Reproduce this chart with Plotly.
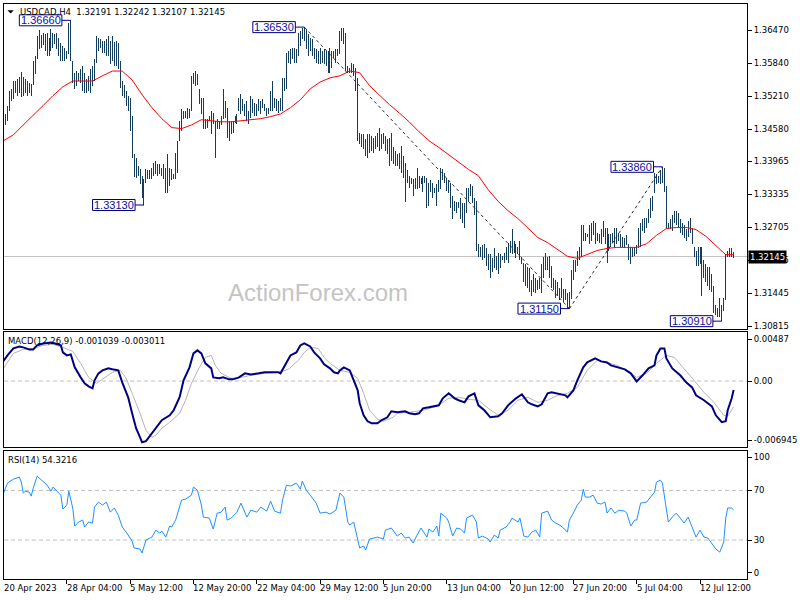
import plotly.graph_objects as go

# ---------------- DATA ----------------
bar_high = [
 1.3484,1.3487,1.3503,1.3531,1.3535,1.3550,1.3550,1.3554,1.3558,1.3568,
 1.3558,1.3554,1.3550,1.3547,1.3545,1.3589,1.3598,1.3636,1.3648,1.3638,
 1.3642,1.3640,1.3642,1.3632,1.3650,1.3642,1.3640,1.3642,1.3632,1.3623,
 1.3617,1.3613,1.3608,1.3661,1.3666,1.3589,1.3566,1.3569,1.3566,1.3573,
 1.3579,1.3566,1.3554,1.3560,1.3573,1.3579,1.3592,1.3636,1.3632,1.3631,
 1.3627,1.3627,1.3631,1.3636,1.3627,1.3636,1.3625,1.3627,1.3623,1.3589,
 1.3550,1.3543,1.3531,1.3522,1.3518,1.3484,1.3411,1.3403,1.3388,1.3382,
 1.3369,1.3363,1.3382,1.3379,1.3379,1.3384,1.3394,1.3398,1.3392,1.3392,
 1.3384,1.3392,1.3384,1.3411,1.3384,1.3382,1.3373,1.3413,1.3436,1.3474,
 1.3497,1.3493,1.3493,1.3499,1.3497,1.3560,1.3566,1.3569,1.3564,1.3535,
 1.3518,1.3518,1.3478,1.3478,1.3484,1.3493,1.3489,1.3474,1.3478,1.3474,
 1.3484,1.3535,1.3512,1.3499,1.3474,1.3474,1.3474,1.3484,1.3487,1.3518,
 1.3526,1.3516,1.3506,1.3512,1.3493,1.3522,1.3516,1.3508,1.3506,1.3516,
 1.3512,1.3516,1.3506,1.3499,1.3499,1.3531,1.3550,1.3518,1.3516,1.3512,
 1.3518,1.3556,1.3556,1.3604,1.3608,1.3611,1.3613,1.3613,1.3611,1.3642,
 1.3646,1.3651,1.3653,1.3650,1.3640,1.3632,1.3631,1.3613,1.3611,1.3608,
 1.3613,1.3608,1.3611,1.3608,1.3608,1.3613,1.3608,1.3608,1.3611,1.3611,
 1.3646,1.3651,1.3651,1.3642,1.3579,1.3575,1.3585,1.3583,1.3575,1.3556,
 1.3451,1.3449,1.3449,1.3440,1.3449,1.3449,1.3445,1.3442,1.3445,1.3451,
 1.3461,1.3449,1.3451,1.3445,1.3440,1.3442,1.3451,1.3423,1.3417,1.3411,
 1.3413,1.3426,1.3407,1.3394,1.3379,1.3369,1.3365,1.3363,1.3365,1.3384,
 1.3369,1.3365,1.3369,1.3369,1.3365,1.3356,1.3360,1.3356,1.3346,1.3354,
 1.3360,1.3384,1.3382,1.3375,1.3365,1.3360,1.3356,1.3331,1.3321,1.3318,
 1.3318,1.3327,1.3316,1.3316,1.3346,1.3346,1.3354,1.3350,1.3327,1.3321,
 1.3239,1.3232,1.3236,1.3239,1.3230,1.3220,1.3220,1.3211,1.3230,1.3216,
 1.3222,1.3220,1.3216,1.3222,1.3232,1.3241,1.3245,1.3268,1.3245,1.3239,
 1.3232,1.3245,1.3213,1.3203,1.3201,1.3194,1.3192,1.3169,1.3182,1.3174,
 1.3169,1.3174,1.3201,1.3213,1.3222,1.3213,1.3216,1.3197,1.3174,1.3169,
 1.3165,1.3155,1.3173,1.3153,1.3153,1.3144,1.3146,1.3188,1.3207,1.3207,
 1.3226,1.3232,1.3274,1.3274,1.3260,1.3258,1.3274,1.3278,1.3283,1.3278,
 1.3260,1.3258,1.3268,1.3283,1.3270,1.3270,1.3258,1.3258,1.3260,1.3270,
 1.3270,1.3260,1.3258,1.3251,1.3249,1.3255,1.3239,1.3232,1.3230,1.3232,
 1.3236,1.3270,1.3278,1.3287,1.3289,1.3289,1.3306,1.3327,1.3331,1.3375,
 1.3373,1.3369,1.3379,1.3386,1.3384,1.3350,1.3278,1.3287,1.3293,1.3302,
 1.3302,1.3297,1.3287,1.3278,1.3274,1.3268,1.3283,1.3289,1.3270,1.3232,
 1.3226,1.3232,1.3232,1.3232,1.3207,1.3201,1.3194,1.3194,1.3182,1.3159,
 1.3121,1.3117,1.3136,1.3121,1.3136,1.3220,1.3226,1.3230,1.3230,1.3224]

bar_low = [
 1.3459,1.3465,1.3474,1.3493,1.3512,1.3516,1.3527,1.3522,1.3527,1.3520,
 1.3522,1.3527,1.3522,1.3527,1.3522,1.3543,1.3564,1.3592,1.3611,1.3613,
 1.3619,1.3608,1.3598,1.3598,1.3608,1.3613,1.3621,1.3611,1.3598,1.3589,
 1.3589,1.3589,1.3592,1.3602,1.3589,1.3547,1.3535,1.3541,1.3550,1.3547,
 1.3531,1.3527,1.3527,1.3531,1.3527,1.3541,1.3550,1.3585,1.3608,1.3613,
 1.3604,1.3604,1.3598,1.3598,1.3583,1.3589,1.3579,1.3579,1.3573,1.3537,
 1.3522,1.3518,1.3503,1.3493,1.3455,1.3403,1.3367,1.3365,1.3369,1.3354,
 1.3327,1.3313,1.3356,1.3363,1.3363,1.3363,1.3369,1.3373,1.3369,1.3373,
 1.3369,1.3363,1.3335,1.3335,1.3350,1.3360,1.3363,1.3363,1.3375,1.3436,
 1.3455,1.3478,1.3480,1.3478,1.3480,1.3493,1.3545,1.3541,1.3543,1.3506,
 1.3487,1.3459,1.3459,1.3461,1.3474,1.3449,1.3468,1.3403,1.3459,1.3459,
 1.3465,1.3478,1.3480,1.3442,1.3436,1.3449,1.3451,1.3470,1.3468,1.3493,
 1.3487,1.3493,1.3484,1.3474,1.3468,1.3480,1.3489,1.3484,1.3484,1.3493,
 1.3487,1.3499,1.3493,1.3484,1.3487,1.3493,1.3493,1.3499,1.3493,1.3489,
 1.3493,1.3493,1.3531,1.3535,1.3585,1.3583,1.3592,1.3585,1.3585,1.3598,
 1.3617,1.3631,1.3627,1.3611,1.3598,1.3608,1.3598,1.3592,1.3585,1.3583,
 1.3583,1.3585,1.3583,1.3579,1.3566,1.3566,1.3575,1.3594,1.3585,1.3598,
 1.3602,1.3627,1.3621,1.3569,1.3566,1.3566,1.3566,1.3560,1.3531,1.3436,
 1.3430,1.3423,1.3421,1.3407,1.3403,1.3413,1.3417,1.3413,1.3421,1.3423,
 1.3417,1.3421,1.3430,1.3417,1.3411,1.3388,1.3398,1.3392,1.3388,1.3388,
 1.3382,1.3375,1.3365,1.3318,1.3356,1.3346,1.3354,1.3331,1.3344,1.3344,
 1.3346,1.3354,1.3337,1.3356,1.3308,1.3312,1.3337,1.3327,1.3335,1.3312,
 1.3337,1.3344,1.3360,1.3356,1.3340,1.3335,1.3308,1.3287,1.3302,1.3297,
 1.3308,1.3287,1.3279,1.3270,1.3298,1.3318,1.3331,1.3316,1.3293,1.3226,
 1.3213,1.3213,1.3207,1.3211,1.3197,1.3188,1.3174,1.3184,1.3192,1.3188,
 1.3182,1.3192,1.3207,1.3203,1.3207,1.3203,1.3222,1.3220,1.3222,1.3211,
 1.3220,1.3207,1.3201,1.3165,1.3159,1.3155,1.3146,1.3140,1.3146,1.3144,
 1.3150,1.3153,1.3144,1.3174,1.3188,1.3188,1.3173,1.3155,1.3150,1.3136,
 1.3140,1.3131,1.3136,1.3127,1.3131,1.3117,1.3115,1.3134,1.3169,1.3184,
 1.3197,1.3207,1.3213,1.3245,1.3245,1.3251,1.3239,1.3245,1.3255,1.3239,
 1.3245,1.3241,1.3239,1.3251,1.3239,1.3203,1.3226,1.3232,1.3241,1.3232,
 1.3239,1.3245,1.3232,1.3232,1.3230,1.3236,1.3207,1.3201,1.3213,1.3216,
 1.3220,1.3230,1.3232,1.3264,1.3260,1.3270,1.3278,1.3289,1.3302,1.3335,
 1.3354,1.3356,1.3354,1.3356,1.3337,1.3268,1.3268,1.3268,1.3264,1.3278,
 1.3274,1.3270,1.3260,1.3255,1.3249,1.3245,1.3251,1.3260,1.3239,1.3213,
 1.3197,1.3197,1.3201,1.3140,1.3174,1.3165,1.3159,1.3150,1.3146,1.3106,
 1.3102,1.3098,1.3098,1.3091,1.3111,1.3131,1.3213,1.3213,1.3213,1.3211]

ma_idx = list(range(0, 366, 5)) + [369]
ma_val = [
 1.3436,1.3447,1.3466,1.3484,1.3503,1.3522,1.3539,1.3550,1.3550,1.3550,
 1.3560,1.3569,1.3569,1.3552,1.3524,1.3499,1.3478,1.3461,1.3459,1.3466,
 1.3476,1.3474,1.3472,1.3472,1.3474,1.3476,1.3478,1.3482,1.3487,1.3499,
 1.3514,1.3535,1.3548,1.3556,1.3560,1.3569,1.3566,1.3541,1.3522,1.3505,
 1.3489,1.3472,1.3453,1.3436,1.3423,1.3409,1.3394,1.3381,1.3369,1.3342,
 1.3320,1.3302,1.3287,1.3268,1.3251,1.3241,1.3228,1.3215,1.3211,1.3218,
 1.3226,1.3230,1.3232,1.3232,1.3232,1.3239,1.3255,1.3268,1.3270,1.3270,
 1.3266,1.3253,1.3236,1.3218,1.3218]

macd_idx = [0,2,5,8,10,13,15,17,20,24,26,29,30,32,34,36,39,41,43,45,
 46,48,50,53,55,58,60,63,65,67,69,70,72,75,77,80,84,86,89,91,
 94,96,98,100,102,105,106,109,111,114,116,119,122,125,129,132,135,139,140,143,
 145,148,150,152,155,157,160,162,165,167,169,170,172,175,177,179,180,182,184,186,
 189,191,194,196,199,203,205,208,210,212,215,220,222,225,228,230,233,235,238,240,
 243,246,250,252,255,259,262,265,267,270,272,275,277,280,284,285,288,290,293,295,
 299,302,305,307,310,314,317,320,323,326,329,330,332,334,335,338,342,345,348,350,
 354,358,360,363,365,366,368,369]
macd_val = [0.00234,0.00300,0.00382,0.00405,0.00394,0.00370,0.00370,0.00417,0.00440,0.00452,
 0.00440,0.00417,0.00335,0.00300,0.00312,0.00160,0.00043,-0.00027,-0.00062,-0.00085,
 0.00008,0.00090,0.00125,0.00148,0.00137,0.00125,-0.00015,-0.00190,-0.00377,-0.00552,
 -0.00658,-0.00716,-0.00704,-0.00611,-0.00541,-0.00459,-0.00401,-0.00342,-0.00190,0.00008,
 0.00160,0.00324,0.00359,0.00324,0.00207,0.00148,0.00043,0.00032,0.00043,0.00020,
 0.00020,0.00043,0.00090,0.00078,0.00090,0.00102,0.00102,0.00102,0.00090,0.00207,
 0.00300,0.00335,0.00417,0.00440,0.00405,0.00335,0.00265,0.00195,0.00148,0.00102,
 0.00090,0.00125,0.00160,0.00125,0.00008,-0.00109,-0.00260,-0.00401,-0.00471,-0.00494,
 -0.00494,-0.00459,-0.00424,-0.00354,-0.00366,-0.00354,-0.00377,-0.00389,-0.00377,-0.00319,
 -0.00307,-0.00284,-0.00202,-0.00144,-0.00202,-0.00225,-0.00249,-0.00179,-0.00144,-0.00284,
 -0.00342,-0.00424,-0.00412,-0.00377,-0.00284,-0.00202,-0.00155,-0.00249,-0.00272,-0.00296,
 -0.00272,-0.00144,-0.00132,-0.00144,-0.00167,-0.00190,-0.00109,0.00008,0.00160,0.00218,
 0.00265,0.00230,0.00218,0.00183,0.00160,0.00137,0.00090,-0.00004,0.00067,0.00148,
 0.00183,0.00300,0.00382,0.00382,0.00265,0.00148,0.00067,-0.00015,-0.00074,-0.00167,
 -0.00225,-0.00296,-0.00401,-0.00482,-0.00471,-0.00342,-0.00202,-0.00104]

sig_idx = [0,5,10,15,20,25,30,35,39,43,47,50,55,59,62,65,69,72,75,77,
 80,84,89,92,95,99,102,105,107,110,115,120,125,132,139,144,149,152,155,159,
 162,165,170,175,179,182,185,189,192,197,199,205,212,219,225,230,235,240,245,250,
 255,260,265,270,275,280,285,290,295,300,305,310,315,320,325,330,335,339,344,349,
 354,359,364,366,369]
sig_val = [0.00148,0.00324,0.00370,0.00382,0.00417,0.00429,0.00394,0.00347,0.00207,0.00043,
 -0.00027,0.00020,0.00102,0.00125,0.00032,-0.00144,-0.00377,-0.00576,-0.00658,-0.00634,
 -0.00552,-0.00482,-0.00377,-0.00225,-0.00027,0.00160,0.00277,0.00300,0.00183,0.00090,
 0.00032,0.00043,0.00067,0.00090,0.00102,0.00137,0.00242,0.00335,0.00394,0.00382,
 0.00277,0.00207,0.00125,0.00102,0.00032,-0.00144,-0.00342,-0.00447,-0.00471,-0.00424,
 -0.00377,-0.00366,-0.00342,-0.00296,-0.00202,-0.00190,-0.00214,-0.00225,-0.00319,-0.00401,
 -0.00342,-0.00225,-0.00190,-0.00249,-0.00225,-0.00167,-0.00144,-0.00074,0.00125,0.00242,
 0.00218,0.00183,0.00125,0.00043,0.00090,0.00207,0.00300,0.00277,0.00148,0.00008,
 -0.00132,-0.00249,-0.00401,-0.00412,-0.00301]

rsi_idx = [0,2,5,8,9,10,11,13,14,15,17,19,20,22,24,25,27,29,30,32,
 33,35,36,38,40,41,43,45,46,48,50,52,54,56,58,60,62,65,66,69,
 70,72,74,75,77,79,80,82,84,85,87,90,92,95,96,98,100,101,104,106,
 108,110,112,113,115,118,120,121,123,125,128,130,133,135,137,140,141,143,145,148,
 150,151,153,155,158,160,163,165,168,170,172,174,175,177,179,180,182,183,185,189,
 192,193,196,199,201,203,205,207,209,211,214,215,217,219,220,221,224,225,227,229,
 231,233,234,237,239,240,242,245,246,248,250,251,254,256,257,260,261,263,265,267,
 269,271,272,275,277,279,281,283,285,286,288,290,292,293,294,296,298,300,302,304,
 305,307,309,311,314,315,317,319,320,322,325,327,329,330,332,333,335,336,338,340,
 342,344,346,348,350,352,354,356,358,360,362,364,365,366,368,369]
rsi_val = [67.8,75.9,79.1,80.7,76.7,67.8,69.4,68.6,65.4,71.8,81.5,78.3,77.5,74.3,69.4,72.7,69.4,66.2,54.9,58.2,
 69.4,55.8,41.3,44.5,46.1,40.5,44.5,43.7,56.6,60.6,58.2,60.6,52.5,55.8,50.1,40.5,36.4,29.2,23.6,22.8,
 19.5,30.0,31.6,32.4,38.0,35.6,37.2,32.4,41.3,40.5,46.1,62.2,63.0,66.2,72.7,70.2,58.2,48.5,47.7,38.9,
 51.7,52.5,56.6,46.1,47.7,52.5,59.8,55.8,48.5,54.1,52.5,56.6,53.3,61.4,53.3,51.7,62.2,74.3,73.5,75.9,
 71.0,77.5,70.2,66.2,59.8,51.7,52.5,50.9,54.1,67.8,64.6,44.5,42.1,44.5,30.8,23.6,25.2,22.0,30.8,32.4,
 30.8,38.0,39.7,33.2,35.6,31.6,32.4,27.6,34.0,39.7,32.4,38.9,36.4,41.3,33.2,51.7,47.7,44.5,33.2,39.7,
 38.9,35.6,47.7,50.1,44.5,31.6,33.2,30.8,28.4,34.0,31.6,38.0,40.5,44.5,47.7,44.5,47.7,33.2,32.4,36.4,
 38.0,32.4,51.7,53.3,46.1,43.7,42.1,39.7,36.4,46.1,51.7,58.2,62.2,71.0,64.6,64.6,66.2,59.8,59.0,60.6,
 51.7,55.8,51.7,54.1,53.3,51.7,41.3,46.1,46.1,59.8,60.6,64.6,68.6,76.7,78.3,75.9,56.6,44.5,48.5,51.7,
 47.7,43.7,48.5,39.7,32.4,38.0,32.4,31.6,26.8,22.8,20.3,28.4,47.7,55.8,55.8,54.3]

price_ticks = [1.36470, 1.35840, 1.35210, 1.34580, 1.33965, 1.33335, 1.32705, 1.32075, 1.31445, 1.30815]
macd_ticks = [0.00487, 0.0, -0.006945]
macd_ticktext = ["0.00487", "0.00", "-0.006945"]
rsi_ticks = [96.6, 70, 30, 3.7]
rsi_ticktext = ["100", "70", "30", "0"]
rsi_levels = [70, 30]

time_labels = ["20 Apr 2023", "28 Apr 04:00", "5 May 12:00", "12 May 20:00", "22 May 04:00",
               "29 May 12:00", "5 Jun 20:00", "13 Jun 04:00", "20 Jun 12:00", "27 Jun 20:00",
               "5 Jul 04:00", "12 Jul 12:00"]
time_label_bars = [0, 32, 64, 96, 128, 160, 192, 224, 256, 288, 320, 352]

label_vals = [1.36660, 1.33130, 1.36530, 1.31150, 1.33860, 1.30910]
label_bars = [34, 71, 152, 286, 333, 363]
trend_path = [2, 3, 4]  # indices into the labelled swing points

current_price = 1.32145
header = "USDCAD,H4 \u00a01.32191 1.32242 1.32107 1.32145"
macd_title = "MACD(12,26,9) -0.001039 -0.003011"
rsi_title = "RSI(14) 54.3216"

# ---------------- FIGURE ----------------
BAR_C = "#133c5a"
FONT = "DejaVu Sans"
FS = 8.5
W, H = 800, 600
ML, MR, MT, MB = 3, 46, 3, 21
X0 = 0.25
X1 = X0 + (W - ML - MR) / 2.0

def py(px):  # paper y from pixel row
    return (H - MB - px) / (H - MT - MB)

def pxx(px):  # paper x from pixel column
    return (px - ML) / (W - ML - MR)

bx, by = [], []
for i, (h, l) in enumerate(zip(bar_high, bar_low)):
    bx += [i, i, None]
    by += [l, h, None]

fig = go.Figure()
fig.add_trace(go.Scatter(x=bx, y=by, mode="lines", line=dict(color=BAR_C, width=1),
                         xaxis="x", yaxis="y", hoverinfo="skip"))
fig.add_trace(go.Scatter(x=ma_idx, y=ma_val, mode="lines", line=dict(color="#ff0000", width=1),
                         xaxis="x", yaxis="y", hoverinfo="skip"))
fig.add_trace(go.Scatter(x=sig_idx, y=sig_val, mode="lines", line=dict(color="#b4b4b4", width=1),
                         xaxis="x2", yaxis="y2", hoverinfo="skip"))
fig.add_trace(go.Scatter(x=macd_idx, y=macd_val, mode="lines", line=dict(color="#000080", width=2),
                         xaxis="x2", yaxis="y2", hoverinfo="skip"))
fig.add_trace(go.Scatter(x=rsi_idx, y=rsi_val, mode="lines", line=dict(color="#1e90ff", width=1),
                         xaxis="x3", yaxis="y3", hoverinfo="skip"))

frame = dict(showline=True, mirror=True, linecolor="black", linewidth=1,
             showgrid=False, zeroline=False, fixedrange=True)
xcommon = dict(frame, range=[X0, X1], showticklabels=False, ticks="")
ycommon = dict(frame, side="right", ticks="outside", ticklen=4, tickcolor="black",
               tickfont=dict(family=FONT, size=FS, color="black"))

shapes = []
shapes.append(dict(type="line", xref="paper", yref="y", x0=0, x1=1, y0=current_price, y1=current_price,
                   line=dict(color="#c0c0c0", width=1), layer="below"))
shapes.append(dict(type="line", xref="paper", yref="y2", x0=0, x1=1, y0=0, y1=0,
                   line=dict(color="#c0c0c0", width=1, dash="4px,3px"), layer="below"))
for lv in rsi_levels:
    shapes.append(dict(type="line", xref="paper", yref="y3", x0=0, x1=1, y0=lv, y1=lv,
                       line=dict(color="#c0c0c0", width=1, dash="4px,3px"), layer="below"))
for a, b in zip(trend_path[:-1], trend_path[1:]):
    shapes.append(dict(type="line", xref="x", yref="y", x0=label_bars[a], y0=label_vals[a],
                       x1=label_bars[b], y1=label_vals[b],
                       line=dict(color="#2b2b2b", width=1, dash="3px,3px")))
annotations = []
for b, v in zip(label_bars, label_vals):
    shapes.append(dict(type="line", xref="x", yref="y", x0=b - 4.5, x1=b, y0=v, y1=v,
                       line=dict(color="#000080", width=1)))
    shapes.append(dict(type="rect", xref="x", yref="y", x0=b - 26, x1=b - 4.5,
                       y0=v - 0.00105, y1=v + 0.00105,
                       line=dict(color="#000080", width=1), fillcolor="white"))
    annotations.append(dict(xref="x", yref="y", x=b - 15.25, y=v, text=f"{v:.5f}", showarrow=False,
                            xanchor="center", yanchor="middle",
                            font=dict(family="Liberation Sans", size=11, color="#1010a0")))
shapes.append(dict(type="path", xref="paper", yref="paper",
                   path=f"M {pxx(6.5)} {py(9.3)} L {pxx(12.9)} {py(9.3)} L {pxx(9.7)} {py(12.6)} Z",
                   fillcolor="black", line=dict(color="black", width=0)))

annotations.append(dict(xref="paper", yref="paper", x=pxx(17), y=py(11), text=header, showarrow=False,
                        xanchor="left", yanchor="middle", font=dict(family=FONT, size=FS, color="black")))
annotations.append(dict(xref="paper", yref="paper", x=pxx(5), y=py(341), text=macd_title, showarrow=False,
                        xanchor="left", yanchor="middle", font=dict(family=FONT, size=FS, color="black")))
annotations.append(dict(xref="paper", yref="paper", x=pxx(5), y=py(460), text=rsi_title, showarrow=False,
                        xanchor="left", yanchor="middle", font=dict(family=FONT, size=FS, color="black")))
annotations.append(dict(xref="paper", yref="paper", x=pxx(320), y=py(292), text="ActionForex.com",
                        showarrow=False, xanchor="center", yanchor="middle",
                        font=dict(family="Liberation Sans", size=24, color="#c4c4c4")))
annotations.append(dict(xref="paper", yref="y", x=1, y=current_price, text=f"{current_price:.5f}",
                        showarrow=False, xanchor="left", yanchor="middle", xshift=1,
                        bgcolor="black", borderpad=1,
                        font=dict(family=FONT, size=FS, color="white")))
for lab, b in zip(time_labels, time_label_bars):
    annotations.append(dict(xref="x3", yref="paper", x=max(b, X0), y=py(588), text=lab, showarrow=False,
                            xanchor="left", yanchor="middle", xshift=-2,
                            font=dict(family=FONT, size=FS, color="black")))

fig.update_layout(
    width=W, height=H, margin=dict(l=ML, r=MR, t=MT, b=MB),
    paper_bgcolor="white", plot_bgcolor="white", showlegend=False, hovermode=False,
    font=dict(family=FONT, size=FS, color="black"),
    xaxis=dict(xcommon, domain=[0, 1], anchor="y"),
    xaxis2=dict(xcommon, domain=[0, 1], anchor="y2"),
    xaxis3=dict(xcommon, domain=[0, 1], anchor="y3", ticks="outside", ticklen=4, tickcolor="black",
                tickvals=time_label_bars),
    yaxis=dict(ycommon, domain=[py(329), py(3)], range=[1.307517, 1.369718], anchor="x",
               tickvals=price_ticks, ticktext=[f"{t:.5f}" for t in price_ticks]),
    yaxis2=dict(ycommon, domain=[py(447), py(332)], range=[-0.007744, 0.005688], anchor="x2",
                tickvals=macd_ticks, ticktext=macd_ticktext),
    yaxis3=dict(ycommon, domain=[py(579), py(451)], range=[-1.39, 101.6], anchor="x3",
                tickvals=rsi_ticks, ticktext=rsi_ticktext),
    shapes=shapes, annotations=annotations,
)

post_js = (
    "document.body.style.margin='0';document.body.style.padding='0';"
    "document.body.style.overflow='hidden';"
    "var gd=document.getElementById('{plot_id}');"
    "var tr=gd.querySelectorAll('.scatterlayer .trace');"
    "if(tr.length){tr[0].querySelectorAll('path').forEach(function(p){p.style.shapeRendering='crispEdges';});}"
)
fig.write_html("out.html", post_script=post_js,
               config={"displayModeBar": False, "staticPlot": True})
